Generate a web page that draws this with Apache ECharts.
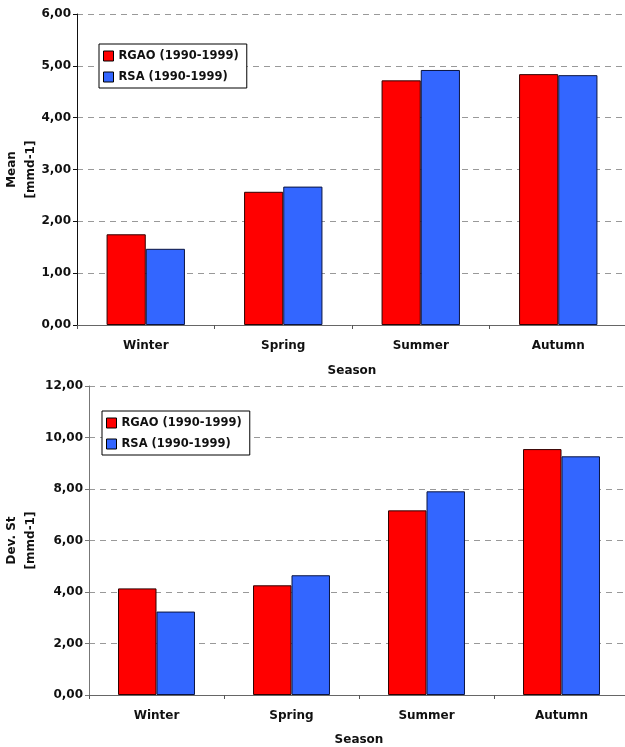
<!DOCTYPE html>
<html>
<head>
<meta charset="utf-8">
<script src="https://cdn.jsdelivr.net/npm/echarts@6/dist/echarts.min.js"></script>
<style>
html,body{margin:0;padding:0;background:#fff;}
#chart{width:625px;height:747px;}
</style>
</head>
<body>
<div id="chart"></div>
<script>
var categories = ['Winter', 'Spring', 'Summer', 'Autumn'];
var seriesNames = ['RGAO (1990-1999)', 'RSA (1990-1999)'];
var meanRGAO = [1.75, 2.57, 4.72, 4.84];
var meanRSA = [1.47, 2.67, 4.92, 4.82];
var devRGAO = [4.14, 4.26, 7.17, 9.55];
var devRSA = [3.24, 4.65, 7.91, 9.27];

var FONT = 'DejaVu Sans';
var txt = {fontFamily: FONT, fontWeight: 'bold', fontSize: 12, color: '#111'};
function fmt(v) { return v.toFixed(2).replace('.', ','); }

function xAxis(gridIndex) {
  return {
    type: 'category', gridIndex: gridIndex, data: categories,
    name: 'Season', nameLocation: 'middle', nameGap: gridIndex === 0 ? 40 : 39,
    nameMoveOverlap: false,
    nameTextStyle: txt,
    axisLine: {lineStyle: {color: '#666', width: 1}},
    axisTick: {show: true, length: 4, lineStyle: {color: '#555'}},
    axisLabel: Object.assign({margin: 15}, txt),
    splitLine: {show: false}
  };
}
function yAxis(gridIndex, max, interval, name, gap, lineColor) {
  return {
    type: 'value', gridIndex: gridIndex, min: 0, max: max, interval: interval,
    name: name, nameLocation: 'middle', nameRotate: 90, nameGap: gap,
    nameMoveOverlap: false,
    nameTextStyle: Object.assign({}, txt, {lineHeight: 19}),
    axisLine: {show: true, lineStyle: {color: lineColor, width: 1}},
    axisTick: {show: true, length: 4, lineStyle: {color: lineColor}},
    axisLabel: Object.assign({margin: 6, formatter: fmt}, txt),
    splitLine: {show: true, lineStyle: {color: '#999', type: [6, 5], width: 1}}
  };
}
var red = {color: '#ff0000', borderColor: '#300000', borderWidth: 1};
var blue = {color: '#3366ff', borderColor: '#0a1440', borderWidth: 1};
function bar(name, data, style, idx) {
  return {
    type: 'bar', name: name, data: data, xAxisIndex: idx, yAxisIndex: idx,
    barGap: '0%', barCategoryGap: '43%', itemStyle: style, animation: false
  };
}
function legend(left, top) {
  return {
    orient: 'vertical', left: left, top: top,
    data: seriesNames,
    backgroundColor: '#fff', borderColor: '#000', borderWidth: 1,
    padding: [6, 8, 5, 4], itemWidth: 10, itemHeight: 10, itemGap: 9,
    icon: 'rect',
    textStyle: Object.assign({}, txt, {lineHeight: 12, fontSize: 11.5}),
    itemStyle: {borderColor: '#000', borderWidth: 1}
  };
}

var chart = echarts.init(document.getElementById('chart'), null, {renderer: 'canvas'});
chart.setOption({
  animation: false,
  backgroundColor: '#fff',
  color: ['#ff0000', '#3366ff'],
  grid: [
    {left: 77, top: 14, width: 550, height: 311, containLabel: false, outerBoundsMode: 'none'},
    {left: 89, top: 386, width: 540, height: 309, containLabel: false, outerBoundsMode: 'none'}
  ],
  xAxis: [xAxis(0), xAxis(1)],
  yAxis: [
    yAxis(0, 6, 1, 'Mean\n[mmd-1]', 37, '#111'),
    yAxis(1, 12, 2, 'Dev. St\n[mmd-1]', 49, '#777')
  ],
  legend: [legend(99, 44), legend(102, 411)],
  series: [
    bar(seriesNames[0], meanRGAO, red, 0),
    bar(seriesNames[1], meanRSA, blue, 0),
    bar(seriesNames[0], devRGAO, red, 1),
    bar(seriesNames[1], devRSA, blue, 1)
  ]
});
</script>
</body>
</html>
